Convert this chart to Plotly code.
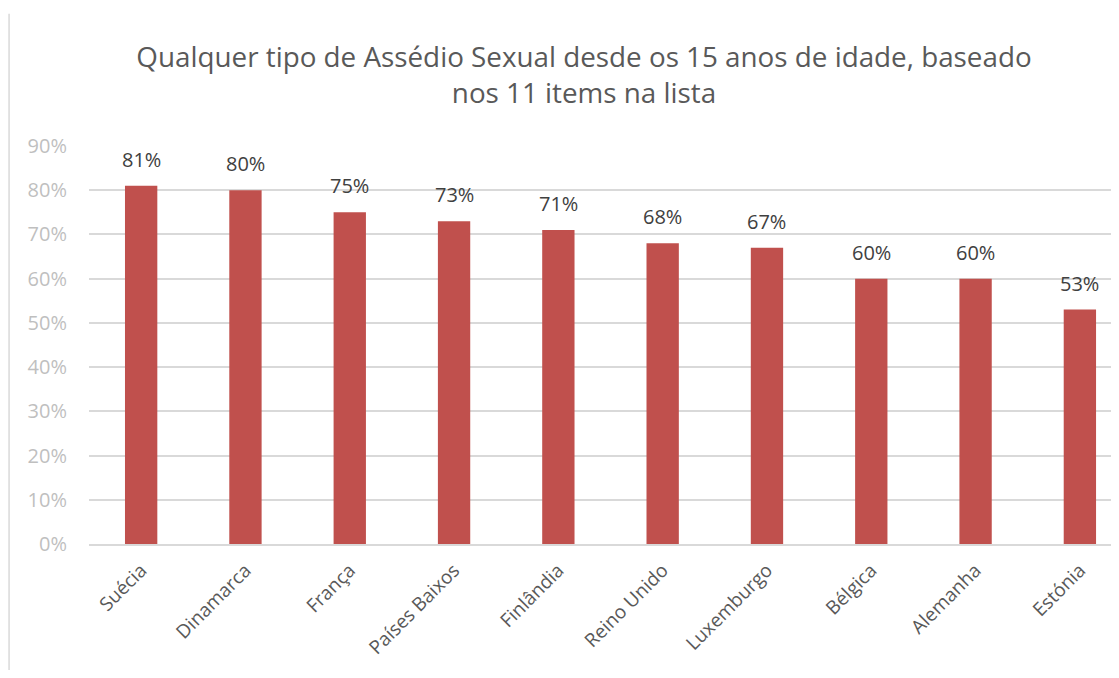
import plotly.graph_objects as go

# Data
countries = ["Suécia", "Dinamarca", "França", "Países Baixos", "Finlândia",
             "Reino Unido", "Luxemburgo", "Bélgica", "Alemanha", "Estónia"]
values = [0.81, 0.80, 0.75, 0.73, 0.71, 0.68, 0.67, 0.60, 0.60, 0.53]
y_ticks = [0, 0.1, 0.2, 0.3, 0.4, 0.5, 0.6, 0.7, 0.8, 0.9]

FONT = "Open Sans"
BAR_COLOR = "#C0504D"
GRID = "#D9D9D9"

fig = go.Figure()
fig.add_trace(go.Bar(
    x=countries, y=values,
    marker=dict(color=BAR_COLOR, line=dict(width=0)),
    width=0.31,
    showlegend=False,
))

# Data labels above the bars
for c, v in zip(countries, values):
    fig.add_annotation(
        x=c, y=v, text=f"{v * 100:.0f}%",
        showarrow=False, yanchor="bottom", yshift=11,
        font=dict(family=FONT, size=20, color="#404040"),
    )

# Left chart border (Excel chart frame)
fig.add_shape(type="line", xref="paper", yref="paper",
              x0=-0.0776, x1=-0.0776, y0=1.332, y1=-0.33,
              line=dict(color=GRID, width=1.5))

fig.update_layout(
    width=1111, height=662,
    margin=dict(l=81, r=0, t=138, b=126),
    paper_bgcolor="white", plot_bgcolor="white",
    title=dict(
        text="Qualquer tipo de Assédio Sexual desde os 15 anos de idade, baseado<br>nos 11 items na lista",
        x=576 / 1111, xref="container", xanchor="center",
        y=1 - 59 / 662, yref="container", yanchor="top",
        font=dict(family=FONT, size=27.8, color="#595959"),
    ),
    font=dict(family=FONT),
    bargap=0.69,
)

fig.update_xaxes(
    range=[-0.5, 9.375],
    tickangle=-45,
    tickfont=dict(family=FONT, size=19, color="#595959"),
    showline=True, linecolor=GRID, linewidth=1.5,
    showgrid=False, ticks="",
    ticklabelstandoff=6,
)
fig.update_yaxes(
    range=[0, 0.9],
    tickvals=y_ticks,
    tickformat=".0%",
    tickfont=dict(family=FONT, size=20, color="#BFBFBF"),
    showgrid=True, gridcolor=GRID, gridwidth=1.5,
    zeroline=False, ticks="",
    ticklabelstandoff=21,
)

fig.write_html("out.html")
